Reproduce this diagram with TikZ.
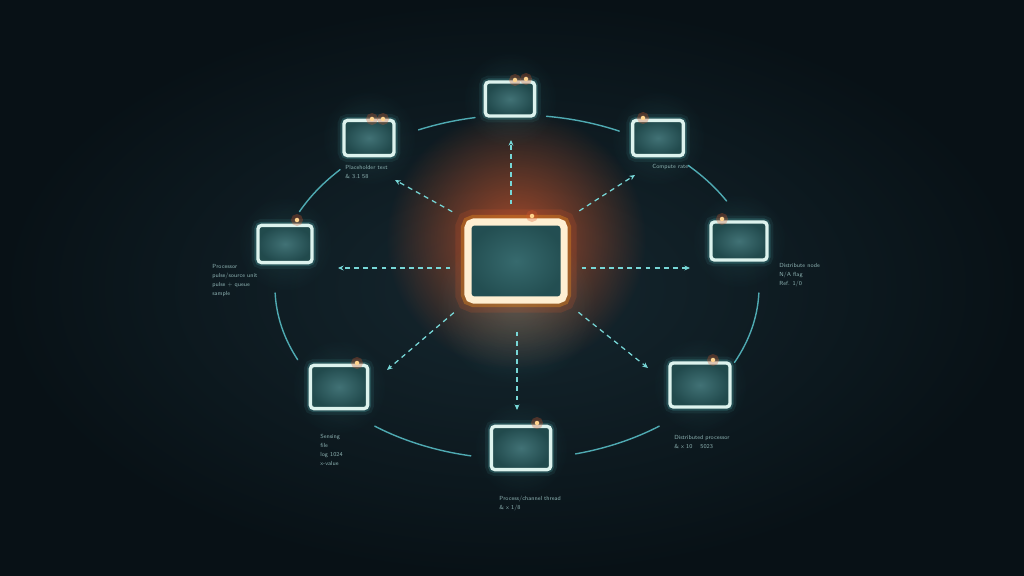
\documentclass[tikz,border=0pt]{standalone}
\usepackage{xcolor}
\usepackage{tikz}
\usetikzlibrary{positioning, calc, arrows.meta, fadings}
\definecolor{bgInner}{HTML}{15272F}
\definecolor{bgOuter}{HTML}{081116}
\definecolor{boxFill}{HTML}{2C6266}
\definecolor{boxEdge}{HTML}{DDF3EE}
\definecolor{glowCyan}{HTML}{5FD0D0}
\definecolor{hubEdge}{HTML}{FFEFD2}
\definecolor{hubGlow}{HTML}{D9582A}
\definecolor{ringColor}{HTML}{4FAAB2}
\definecolor{labelColor}{HTML}{8DB2B2}
\definecolor{lampColor}{HTML}{FFD48E}
\tikzfading[name=softglow, inner color=transparent!0, outer color=transparent!100]
\tikzset{
    screen/.style={
        draw=boxEdge,
        line width=2.4pt,
        rounded corners=2.5pt,
        inner color=boxFill!90!white,
        outer color=boxFill!75!black,
        preaction={draw=glowCyan, line width=9pt, opacity=0.08},
        preaction={draw=glowCyan, line width=5pt, opacity=0.2}
    },
    hubbox/.style={
        draw=hubEdge,
        line width=5pt,
        rounded corners=4pt,
        minimum width=2.4cm,
        minimum height=1.95cm,
        inner color=boxFill!95!white,
        outer color=boxFill!80!black,
        preaction={draw=hubGlow, line width=18pt, opacity=0.18},
        preaction={draw=hubGlow!70!yellow, line width=10pt, opacity=0.4}
    },
    lamp/.style={
        circle,
        inner sep=0pt,
        minimum size=3.2pt,
        fill=lampColor,
        preaction={draw=hubGlow, line width=5pt, opacity=0.3}
    },
    spoke/.style={
        draw=glowCyan!85!white,
        line width=0.9pt,
        dash pattern=on 3.5pt off 3pt,
        -{Stealth[length=4pt, width=3.5pt]},
        shorten <=0.35cm
    },
    ring/.style={draw=ringColor, line width=1pt, line cap=round},
    tag/.style={
        text=labelColor,
        font=\sffamily\fontsize{4.2}{6.4}\selectfont,
        align=left,
        inner sep=0pt,
        anchor=north west
    }
}

\begin{document}
\begin{tikzpicture}[x=0.025cm, y=-0.025cm]
    \useasboundingbox (0,0) rectangle (1024,576);
    \shade[inner color=bgInner, outer color=bgOuter] (0,0) rectangle (1024,576);

    % places
    \coordinate (pHub) at (516,261);
    \coordinate (pTop) at (510,99);
    \coordinate (pTopLeft) at (369,138);
    \coordinate (pTopRight) at (658,138);
    \coordinate (pLeft) at (285,244);
    \coordinate (pRight) at (739,241);
    \coordinate (pBotLeft) at (339,387);
    \coordinate (pBot) at (521,448);
    \coordinate (pBotRight) at (700,385);
    \coordinate (ringC) at (517,287);

    % spoke tips
    \coordinate (tipTop) at (511,140);
    \coordinate (tipTopLeft) at (395,180);
    \coordinate (tipTopRight) at (635,175);
    \coordinate (tipLeft) at (338,268);
    \coordinate (tipRight) at (690,268);
    \coordinate (tipBotLeft) at (387,370);
    \coordinate (tipBot) at (517,410);
    \coordinate (tipBotRight) at (648,368);

    % glow
    \fill[hubGlow, path fading=softglow, opacity=0.75] (516,240) circle (130);
    \fill[glowCyan, path fading=softglow, opacity=0.18] (516,305) circle (80);
    \foreach \p in {pTop,pTopLeft,pTopRight,pLeft,pRight,pBotLeft,pBot,pBotRight}
        \fill[glowCyan, path fading=softglow, opacity=0.12] (\p) circle (48);

    % ring
    \draw[ring] ($(ringC)+(-83:242 and 172)$) arc[start angle=-83, end angle=-65, x radius=242, y radius=172];
    \draw[ring] ($(ringC)+(-114:242 and 172)$) arc[start angle=-114, end angle=-100, x radius=242, y radius=172];
    \draw[ring] ($(ringC)+(-154:242 and 172)$) arc[start angle=-154, end angle=-137, x radius=242, y radius=172];
    \draw[ring] ($(ringC)+(178:242 and 172)$) arc[start angle=178, end angle=155, x radius=242, y radius=172];
    \draw[ring] ($(ringC)+(126:242 and 172)$) arc[start angle=126, end angle=101, x radius=242, y radius=172];
    \draw[ring] ($(ringC)+(76:242 and 172)$) arc[start angle=76, end angle=54, x radius=242, y radius=172];
    \draw[ring] ($(ringC)+(26:242 and 172)$) arc[start angle=26, end angle=2, x radius=242, y radius=172];
    \draw[ring] ($(ringC)+(-45:242 and 172)$) arc[start angle=-45, end angle=-30, x radius=242, y radius=172];

    % screens
    \node[hubbox] (hub) at (pHub) {};
    \node[screen, minimum width=1.23cm, minimum height=0.85cm] (top) at (pTop) {};
    \node[screen, minimum width=1.25cm, minimum height=0.88cm] (topleft) at (pTopLeft) {};
    \node[screen, minimum width=1.27cm, minimum height=0.88cm] (topright) at (pTopRight) {};
    \node[screen, minimum width=1.35cm, minimum height=0.93cm] (left) at (pLeft) {};
    \node[screen, minimum width=1.4cm, minimum height=0.95cm] (right) at (pRight) {};
    \node[screen, minimum width=1.43cm, minimum height=1.08cm] (botleft) at (pBotLeft) {};
    \node[screen, minimum width=1.48cm, minimum height=1.08cm] (bot) at (pBot) {};
    \node[screen, minimum width=1.5cm, minimum height=1.1cm] (botright) at (pBotRight) {};

    % lamps
    \node[lamp] (lampHub) at (532,216) {};
    \node[lamp] (lampTopA) at (515,80) {};
    \node[lamp] (lampTopB) at (526,79) {};
    \node[lamp] (lampTopLeftA) at (372,119) {};
    \node[lamp] (lampTopLeftB) at (383,119) {};
    \node[lamp] (lampTopRight) at (643,118) {};
    \node[lamp] (lampLeft) at (297,220) {};
    \node[lamp] (lampRight) at (722,219) {};
    \node[lamp] (lampBotLeft) at (357,363) {};
    \node[lamp] (lampBot) at (537,423) {};
    \node[lamp] (lampBotRight) at (713,360) {};

    % spokes
    \draw[spoke] (hub.north -| tipTop) -- (tipTop);
    \draw[spoke] (hub.north west) -- (tipTopLeft);
    \draw[spoke] (hub.north east) -- (tipTopRight);
    \draw[spoke] (hub.west |- tipLeft) -- (tipLeft);
    \draw[spoke] (hub.east |- tipRight) -- (tipRight);
    \draw[spoke] (hub.south west) -- (tipBotLeft);
    \draw[spoke, shorten <=0.7cm] (hub.south -| tipBot) -- (tipBot);
    \draw[spoke] (hub.south east) -- (tipBotRight);

    % labels
    \node[tag] (tagTopLeft) at (345,165) {Placeholder text\\ \& 3.1 58};
    \node[tag] (tagTopRight) at (652,164) {Compute rate};
    \node[tag] (tagLeft) at (212,264) {Processor\\ pulse/source unit\\ pulse + queue\\ sample};
    \node[tag] (tagBotLeft) at (320,434) {Sensing\\ file\\ log 1024\\ x-value};
    \node[tag] (tagBot) at (499,496) {Process/channel thread\\ \& x 1/8};
    \node[tag] (tagBotRight) at (674,435) {Distributed processor\\ \& x 10 \quad 5023};
    \node[tag] (tagRight) at (779,263) {Distribute node\\ N/A flag\\ Ref. 1/0};
\end{tikzpicture}
\end{document}
